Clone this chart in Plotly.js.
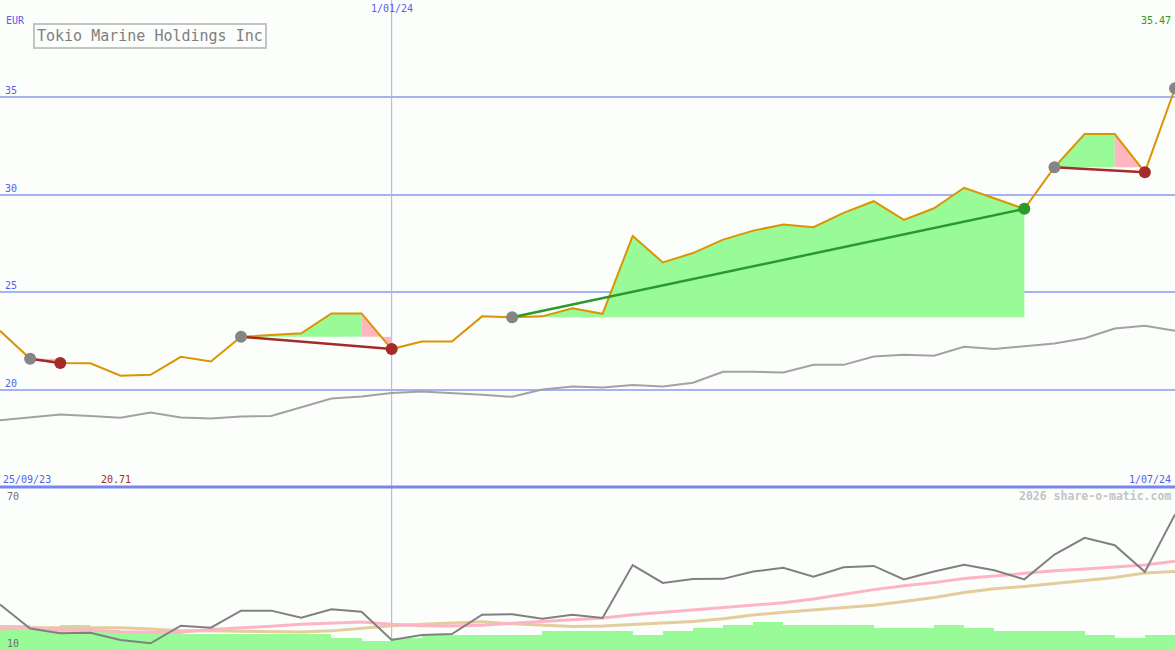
<!DOCTYPE html>
<html>
<head>
<meta charset="utf-8">
<script src="https://cdn.plot.ly/plotly-3.0.1.min.js"></script>
<style>
html,body{margin:0;padding:0;background:#fbfefb;}
#chart{width:1175px;height:650px;}
</style>
</head>
<body>
<div id="chart"></div>
<script>
// ---------- DATA ----------
const dates = ['2023-10-02','2023-10-09','2023-10-16','2023-10-23','2023-10-30','2023-11-06','2023-11-13','2023-11-20','2023-11-27','2023-12-04',
  '2023-12-11','2023-12-18','2023-12-25','2024-01-01','2024-01-08','2024-01-15','2024-01-22','2024-01-29','2024-02-05','2024-02-12',
  '2024-02-19','2024-02-26','2024-03-04','2024-03-11','2024-03-18','2024-03-25','2024-04-01','2024-04-08','2024-04-15','2024-04-22',
  '2024-04-29','2024-05-06','2024-05-13','2024-05-20','2024-05-27','2024-06-03','2024-06-10','2024-06-17','2024-06-24','2024-07-01'];
const closePrice = [23.02,21.58,21.36,21.35,20.71,20.76,21.68,21.44,22.71,22.80,
  22.89,23.91,23.91,22.08,22.47,22.47,23.76,23.71,23.76,24.17,
  23.89,27.89,26.53,27.01,27.70,28.16,28.47,28.34,29.07,29.67,
  28.71,29.31,30.36,29.82,29.28,31.42,33.12,33.12,31.16,35.47];
const movingAvg = [18.43,18.57,18.72,18.65,18.55,18.82,18.57,18.52,18.62,18.65,
  19.11,19.54,19.65,19.83,19.90,19.83,19.73,19.63,20.00,20.16,
  20.11,20.23,20.16,20.35,20.91,20.91,20.88,21.27,21.27,21.70,
  21.79,21.74,22.20,22.08,22.22,22.37,22.64,23.14,23.28,23.02];
const oscillator = [26.9,18.0,16.2,16.4,13.7,12.5,19.0,18.3,24.6,24.6,
  22.0,25.1,24.2,13.7,15.6,15.9,23.1,23.3,21.6,23.1,
  21.9,41.5,34.9,36.3,36.4,39.1,40.5,37.2,40.7,41.2,
  36.2,39.1,41.6,39.6,36.2,45.4,51.6,48.9,39.0,60.3];
const oscPink = [18.3,18.3,17.5,17.4,16.8,16.6,16.6,17.6,18.1,18.8,
  19.6,20.1,20.4,19.6,19.0,18.9,19.2,19.9,20.6,21.3,
  21.9,23.1,24.0,24.9,25.8,26.7,27.5,28.9,30.6,32.4,
  33.8,35.0,36.5,37.5,38.6,39.4,40.1,40.8,41.5,42.9];
const oscTan = [17.8,18.3,18.3,18.3,18.3,17.8,17.1,17.1,17.0,16.7,
  16.7,17.1,18.0,19.0,19.6,20.1,20.5,19.7,19.1,18.7,
  18.9,19.5,20.0,20.6,21.6,23.0,24.0,24.8,25.7,26.6,
  28.0,29.5,31.3,32.7,33.6,34.7,35.8,36.9,38.6,39.1];
const volumeBars = [19.4,18.1,19.4,17.6,17.0,16.8,15.8,15.8,15.8,15.8,
  15.8,14.6,13.4,14.3,15.6,15.6,15.6,15.6,17.1,17.1,
  17.1,15.6,17.1,18.3,19.4,20.5,19.4,19.4,19.4,18.1,
  18.1,19.4,18.1,17.0,17.0,17.0,15.6,14.6,15.6];

const sigStartDates = ['2023-10-09','2023-11-27','2024-01-29','2024-06-03'];
const sigPeakDates  = ['2023-10-09','2023-12-25','2024-05-27','2024-06-17'];
const sigEndDates   = ['2023-10-16','2024-01-01','2024-05-27','2024-06-24'];
const sigKinds      = ['down','down','up','down'];

const yTicks = [20,25,30,35];
const currency = 'EUR';
const titleText = 'Tokio Marine Holdings Inc';
const midDateLabel = '1/01/24';
const midDate = '2024-01-01';
const firstDateLabel = '25/09/23';
const lastDateLabel = '1/07/24';
const lastPriceLabel = '35.47';
const minPriceLabel = '20.71';
const oscTop = '70', oscBottom = '10';
const credit = '2026 share-o-matic.com';

// ---------- STYLE ----------
const BG = '#fbfefb';
const MONO = 'DejaVu Sans Mono, Liberation Mono, monospace';
const BLUE_TXT = '#5560ee';
const GRID = '#a6b2f4';
const ORANGE = '#dc9400';
const GREEN_FILL = '#98fb98';
const PINK_FILL = '#ffb6c1';
const GREEN_LINE = '#2a9a2a';
const RED_LINE = '#a52a2a';
const GRAY_MK = '#858585';

const traces = [];

// fills
function addFill(i0, i1, base, color) {
  if (i1 <= i0) return;
  const xs = dates.slice(i0, i1 + 1);
  traces.push({x: xs, y: xs.map(() => base), type: 'scatter', mode: 'lines',
    line: {width: 0, color: color}, hoverinfo: 'skip', showlegend: false, xaxis: 'x', yaxis: 'y'});
  traces.push({x: xs, y: closePrice.slice(i0, i1 + 1), type: 'scatter', mode: 'lines',
    fill: 'tonexty', fillcolor: color, line: {width: 0, color: color},
    hoverinfo: 'skip', showlegend: false, xaxis: 'x', yaxis: 'y'});
}
const sigIdx = sigStartDates.map((d, k) => ({
  s: dates.indexOf(d), p: dates.indexOf(sigPeakDates[k]), e: dates.indexOf(sigEndDates[k]), kind: sigKinds[k]
}));
sigIdx.forEach(g => {
  const base = closePrice[g.s];
  addFill(g.s, g.p, base, GREEN_FILL);
  addFill(g.p, g.e, base, PINK_FILL);
});

// moving average (top)
traces.push({x: dates, y: movingAvg, type: 'scatter', mode: 'lines',
  line: {color: '#a2a2a2', width: 2}, showlegend: false, xaxis: 'x', yaxis: 'y'});
// close
traces.push({x: dates, y: closePrice, type: 'scatter', mode: 'lines',
  line: {color: ORANGE, width: 2}, showlegend: false, xaxis: 'x', yaxis: 'y'});
// trend lines
sigIdx.forEach(g => {
  traces.push({x: [dates[g.s], dates[g.e]], y: [closePrice[g.s], closePrice[g.e]], type: 'scatter', mode: 'lines',
    line: {color: g.kind === 'up' ? GREEN_LINE : RED_LINE, width: 2.5}, showlegend: false, xaxis: 'x', yaxis: 'y'});
});
// markers
const mkX = [], mkY = [], mkC = [];
sigIdx.forEach(g => {
  mkX.push(dates[g.s]); mkY.push(closePrice[g.s]); mkC.push(GRAY_MK);
  mkX.push(dates[g.e]); mkY.push(closePrice[g.e]); mkC.push(g.kind === 'up' ? GREEN_LINE : RED_LINE);
});
mkX.push(dates[dates.length - 1]); mkY.push(closePrice[closePrice.length - 1]); mkC.push(GRAY_MK);
traces.push({x: mkX, y: mkY, type: 'scatter', mode: 'markers', cliponaxis: false,
  marker: {size: 12, color: mkC, line: {width: 0}}, showlegend: false, xaxis: 'x', yaxis: 'y'});

// bottom panel
traces.push({x: dates.slice(0, volumeBars.length), y: volumeBars, type: 'bar',
  width: 7 * 86400000, offset: 0, marker: {color: GREEN_FILL, line: {width: 0}},
  showlegend: false, xaxis: 'x2', yaxis: 'y2'});
traces.push({x: dates, y: oscTan, type: 'scatter', mode: 'lines',
  line: {color: '#e4cc9c', width: 3}, showlegend: false, xaxis: 'x2', yaxis: 'y2'});
traces.push({x: dates, y: oscPink, type: 'scatter', mode: 'lines',
  line: {color: '#ffb3c6', width: 3}, showlegend: false, xaxis: 'x2', yaxis: 'y2'});
traces.push({x: dates, y: oscillator, type: 'scatter', mode: 'lines',
  line: {color: '#808080', width: 2}, showlegend: false, xaxis: 'x2', yaxis: 'y2'});

const sepY = (650 - 487) / 650;
const fs = 10;
const ann = [];
function txt(text, x, y, xanchor, yanchor, color, size, extra) {
  ann.push(Object.assign({text: text, x: x, y: y, xref: 'paper', yref: 'paper', xanchor: xanchor, yanchor: yanchor,
    showarrow: false, font: {family: MONO, size: size || fs, color: color}}, extra || {}));
}
function py(px) { return 1 - px / 650; }
function pxX(px) { return px / 1175; }

yTicks.forEach(v => {
  ann.push({text: String(v), x: 0, xref: 'paper', xanchor: 'left', xshift: 3, y: v, yref: 'y', yanchor: 'bottom', yshift: -1,
    showarrow: false, font: {family: MONO, size: fs, color: BLUE_TXT}});
});
txt(currency, pxX(4), py(20), 'left', 'middle', BLUE_TXT);
ann.push({text: midDateLabel, x: midDate, xref: 'x', xanchor: 'center', y: py(9), yref: 'paper', yanchor: 'middle',
  showarrow: false, font: {family: MONO, size: fs, color: BLUE_TXT}});
txt(lastPriceLabel, pxX(1173), py(20), 'right', 'middle', GREEN_LINE);
txt(firstDateLabel, pxX(1), py(479), 'left', 'middle', BLUE_TXT);
txt(minPriceLabel, pxX(99), py(479), 'left', 'middle', RED_LINE);
txt(lastDateLabel, pxX(1173), py(479), 'right', 'middle', BLUE_TXT);
txt('<b>' + credit + '</b>', pxX(1173), py(496), 'right', 'middle', '#c4c4c4', 11.5);
txt(oscTop, pxX(5), py(496), 'left', 'middle', '#707070');
txt(oscBottom, pxX(5), py(643), 'left', 'middle', '#707070');
ann.push({text: titleText, x: pxX(33), y: py(36), xref: 'paper', yref: 'paper', xanchor: 'left', yanchor: 'middle',
  showarrow: false, font: {family: MONO, size: 15, color: '#808080'},
  bordercolor: '#c4c4c4', borderwidth: 2, borderpad: 2, bgcolor: BG});

const layout = {
  width: 1175, height: 650,
  margin: {l: 0, r: 0, t: 0, b: 0, pad: 0},
  paper_bgcolor: BG, plot_bgcolor: BG,
  showlegend: false,
  bargap: 0,
  xaxis: {domain: [0, 1], range: ['2023-10-02', '2024-07-01'], type: 'date', showgrid: false, showticklabels: false,
    zeroline: false, showline: false, ticks: '', anchor: 'y', fixedrange: true},
  xaxis2: {domain: [0, 1], matches: 'x', type: 'date', showgrid: false, showticklabels: false,
    zeroline: false, showline: false, ticks: '', anchor: 'y2'},
  yaxis: {domain: [sepY, 1], range: [15, 40], tickvals: yTicks, showticklabels: false, gridcolor: GRID, gridwidth: 2,
    zeroline: false, showline: false, ticks: ''},
  yaxis2: {domain: [0, sepY - 0.002], range: [10, 70], showgrid: false, showticklabels: false,
    zeroline: false, showline: false, ticks: ''},
  shapes: [
    {type: 'line', xref: 'x', yref: 'paper', x0: midDate, x1: midDate, y0: 0.013, y1: 1, line: {color: '#a4acfa', width: 1}, layer: 'below'},
    {type: 'line', xref: 'paper', yref: 'paper', x0: 0, x1: 1, y0: sepY, y1: sepY, line: {color: '#7886f0', width: 3}}
  ],
  annotations: ann
};

Plotly.newPlot('chart', traces, layout, {staticPlot: true, displayModeBar: false});
</script>
</body>
</html>
